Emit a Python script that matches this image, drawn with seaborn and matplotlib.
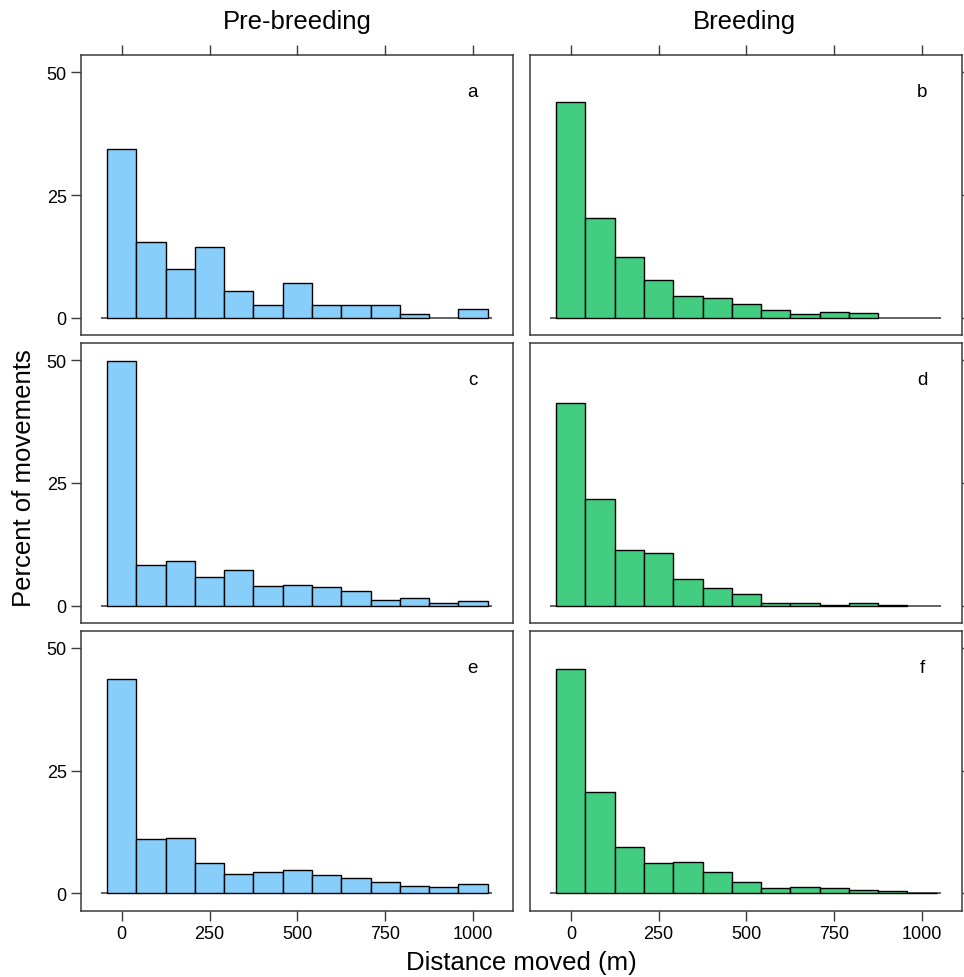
import numpy as np
import pandas as pd
import matplotlib
matplotlib.use("Agg")
import matplotlib.pyplot as plt
import seaborn as sns

# bins: 13 bars of width 1000/12, centred on 0 ... 1000
bin_width = 1000 / 12
bin_centers = np.arange(13) * bin_width
bin_edges = np.append(bin_centers - bin_width / 2, bin_centers[-1] + bin_width / 2).tolist()

# percent of movements per bin
pre_a = [34.4, 15.4, 9.9, 14.5, 5.4, 2.6, 7.1, 2.6, 2.6, 2.6, 0.9, 0.0, 1.8]
breed_b = [44.0, 20.3, 12.5, 7.7, 4.5, 4.1, 2.9, 1.6, 0.7, 1.2, 1.0, 0.0, 0.0]
pre_c = [49.8, 8.3, 9.0, 5.8, 7.2, 4.1, 4.3, 3.8, 2.9, 1.1, 1.6, 0.5, 0.9]
breed_d = [41.3, 21.8, 11.4, 10.7, 5.4, 3.6, 2.4, 0.6, 0.6, 0.2, 0.5, 0.2, 0.0]
pre_e = [43.7, 11.1, 11.3, 6.2, 4.0, 4.4, 4.7, 3.8, 3.1, 2.4, 1.6, 1.3, 2.0]
breed_f = [45.7, 20.6, 9.5, 6.2, 6.4, 4.4, 2.4, 1.1, 1.35, 1.1, 0.7, 0.5, 0.13]

panels = [[pre_a, breed_b], [pre_c, breed_d], [pre_e, breed_f]]
letters = [["a", "b"], ["c", "d"], ["e", "f"]]
col_titles = ["Pre-breeding", "Breeding"]
col_colors = ["#87CEFA", "#43CD80"]
x_ticks = [0, 250, 500, 750, 1000]
y_ticks = [0, 25, 50]

sns.set_theme(style="white")
plt.rcParams["font.family"] = ["Liberation Sans", "DejaVu Sans"]
plt.rcParams["text.color"] = "black"

fig, axes = plt.subplots(3, 2, figsize=(9.64, 9.78), dpi=100, sharex=True, sharey=True)
fig.subplots_adjust(left=0.0837, right=0.9983, bottom=0.0678, top=0.9427,
                    wspace=0.038, hspace=0.0275)

frame = "#3a3a3a"
for r in range(3):
    for c in range(2):
        ax = axes[r, c]
        df = pd.DataFrame({"dist": bin_centers, "pct": panels[r][c]})
        sns.histplot(data=df, x="dist", weights="pct", bins=bin_edges,
                     color=col_colors[c], edgecolor="black", linewidth=1.0,
                     alpha=1, ax=ax, zorder=3)
        # drop empty bins so only the baseline shows there
        for p in list(ax.patches):
            if p.get_height() == 0:
                p.remove()
        ax.hlines(0, -58, 1055, color="#555555", lw=1.3, zorder=2)
        ax.text(1000, 46, letters[r][c], ha="center", va="center", fontsize=13.5,
                color="black")

        ax.set_xlim(-117, 1115)
        ax.set_ylim(-3.5, 53.5)
        ax.set_xticks(x_ticks)
        ax.set_yticks(y_ticks)
        ax.set_xlabel("")
        ax.set_ylabel("")
        for s in ax.spines.values():
            s.set_color(frame)
            s.set_linewidth(1.1)
        ax.tick_params(direction="out", length=7, width=1, color=frame,
                       labelsize=13, labelcolor="black", pad=3,
                       top=(r == 0), labeltop=False,
                       bottom=(r == 2), labelbottom=(r == 2),
                       left=(c == 0), labelleft=(c == 0),
                       right=(c == 1), labelright=False)

fig.text(0.308, 0.978, col_titles[0], ha="center", va="center", fontsize=18.5)
fig.text(0.772, 0.978, col_titles[1], ha="center", va="center", fontsize=18.5)
fig.text(0.025, 0.511, "Percent of movements", rotation=90, ha="center",
         va="center", fontsize=18.5)
fig.text(0.541, 0.0155, "Distance moved (m)", ha="center", va="center", fontsize=18.5)

fig.savefig("out.png", dpi=100)
